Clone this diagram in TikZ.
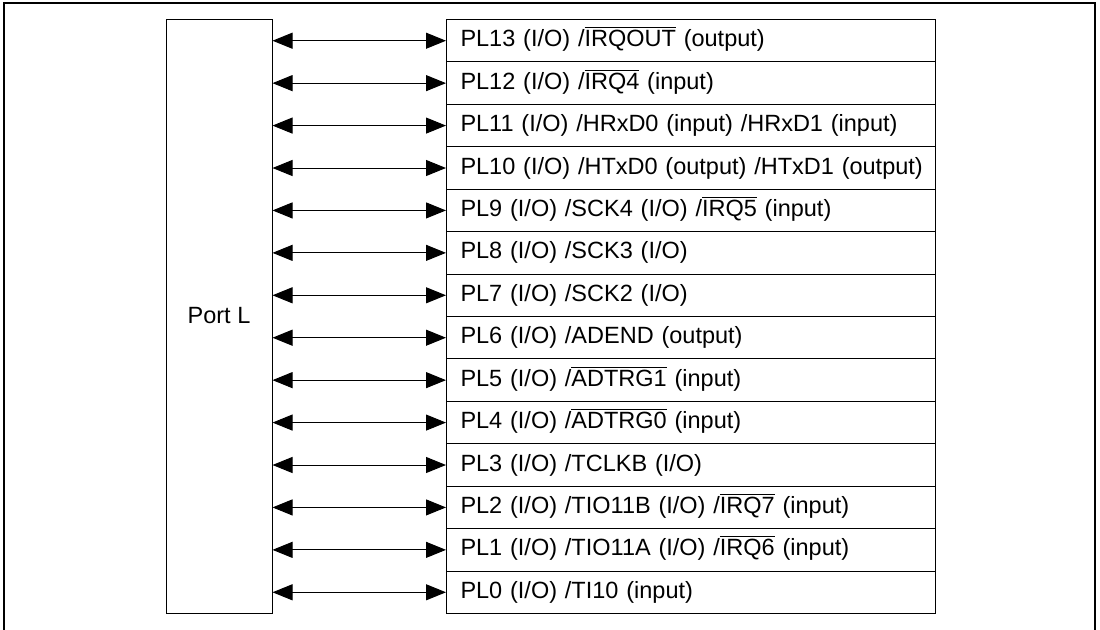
\documentclass[tikz,border=0pt]{standalone}
\usepackage{fontspec}
\setmainfont{Liberation Sans}
\usetikzlibrary{arrows.meta,positioning}

\newcommand\ovbar[1]{\smash{$\overline{\hbox{#1}}$}}

\tikzset{
  pinbox/.style={draw,line width=0.5pt,minimum height=21.21pt,text width=230.5pt,inner xsep=7pt,align=left,anchor=north west},
  portbox/.style={draw,line width=0.5pt,minimum width=53pt,minimum height=297pt},
  pinline/.style={{Triangle[length=10pt,width=8pt]}-{Triangle[length=10pt,width=8pt]},line width=0.5pt}
}

\begin{document}
\begin{tikzpicture}[x=0.5pt,y=-0.5pt,font=\fontsize{11.75}{14}\selectfont]
  \useasboundingbox (0,0) rectangle (1100,629);
  \draw[line width=1.1pt] (4,660) -- (4,3) -- (1095,3) -- (1095,660);
  \node[portbox] (port) at (219,316) {Port L};
  \foreach \txt [count=\i from 0] in {
      {PL13 (I/O) /\ovbar{IRQOUT} (output)},
      {PL12 (I/O) /\ovbar{IRQ4} (input)},
      {PL11 (I/O) /HRxD0 (input) /HRxD1 (input)},
      {PL10 (I/O) /HTxD0 (output) /HTxD1 (output)},
      {PL9 (I/O) /SCK4 (I/O) /\ovbar{IRQ5} (input)},
      {PL8 (I/O) /SCK3 (I/O)},
      {PL7 (I/O) /SCK2 (I/O)},
      {PL6 (I/O) /ADEND (output)},
      {PL5 (I/O) /\ovbar{ADTRG1} (input)},
      {PL4 (I/O) /\ovbar{ADTRG0} (input)},
      {PL3 (I/O) /TCLKB (I/O)},
      {PL2 (I/O) /TIO11B (I/O) /\ovbar{IRQ7} (input)},
      {PL1 (I/O) /TIO11A (I/O) /\ovbar{IRQ6} (input)},
      {PL0 (I/O) /TI10 (input)}}{
    \node[pinbox] (pin\i) at (446,{19+42.4286*\i}) {\mbox{\txt}};
    \draw[pinline] (port.east |- pin\i.west) -- (pin\i.west);
  }
\end{tikzpicture}
\end{document}
